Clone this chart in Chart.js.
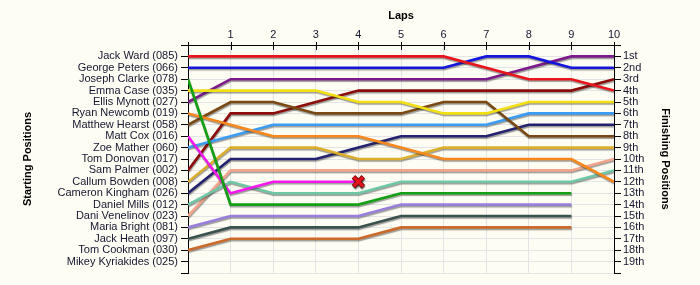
<!DOCTYPE html>
<html>
<head>
<meta charset="utf-8">
<script src="https://cdn.jsdelivr.net/npm/chart.js@4.4.1/dist/chart.umd.min.js"></script>
<style>
  html, body { margin: 0; padding: 0; background: #fdfdf3; }
  #wrap { width: 700px; height: 285px; }
</style>
</head>
<body>
<div id="wrap"><canvas id="race" width="700" height="285"></canvas></div>
<script>
// Laps of the race (0 = grid position)
const laps = [0, 1, 2, 3, 4, 5, 6, 7, 8, 9, 10];

// Grid order, top to bottom
const startNames = [
  'Jack Ward (085)', 'George Peters (066)', 'Joseph Clarke (078)', 'Emma Case (035)',
  'Ellis Mynott (027)', 'Ryan Newcomb (019)', 'Matthew Hearst (058)', 'Matt Cox (016)',
  'Zoe Mather (060)', 'Tom Donovan (017)', 'Sam Palmer (002)', 'Callum Bowden (008)',
  'Cameron Kingham (026)', 'Daniel Mills (012)', 'Dani Venelinov (023)', 'Maria Bright (081)',
  'Jack Heath (097)', 'Tom Cookman (030)', 'Mikey Kyriakides (025)'
];

// Finishing position labels
const finishLabels = [
  '1st', '2nd', '3rd', '4th', '5th', '6th', '7th', '8th', '9th', '10th',
  '11th', '12th', '13th', '14th', '15th', '16th', '17th', '18th', '19th'
];

// Running position of each driver at the end of every lap (null = not running)
const jackWard       = [1, 1, 1, 1, 1, 1, 1, 2, 3, 3, 4];
const georgePeters   = [2, 2, 2, 2, 2, 2, 2, 1, 1, 2, 2];
const josephClarke   = [3, 14, 14, 14, 14, 13, 13, 13, 13, 13, null];
const emmaCase       = [4, 4, 4, 4, 5, 5, 6, 6, 5, 5, 5];
const ellisMynott    = [5, 3, 3, 3, 3, 3, 3, 3, 2, 1, 1];
const ryanNewcomb    = [6, 7, 8, 8, 8, 9, 10, 10, 10, 10, 12];
const matthewHearst  = [7, 5, 5, 6, 6, 6, 5, 5, 8, 8, 8];
const mattCox        = [8, 13, 12, 12, 12, null, null, null, null, null, null];
const zoeMather      = [9, 8, 7, 7, 7, 7, 7, 7, 6, 6, 6];
const samPalmer      = [11, 6, 6, 5, 4, 4, 4, 4, 4, 4, 3];
const callumBowden   = [12, 9, 9, 9, 10, 10, 9, 9, 9, 9, 9];
const cameronKingham = [13, 10, 10, 10, 9, 8, 8, 8, 7, 7, 7];
const danielMills    = [14, 12, 13, 13, 13, 12, 12, 12, 12, 12, 11];
const daniVenelinov  = [15, 11, 11, 11, 11, 11, 11, 11, 11, 11, 10];
const mariaBright    = [16, 15, 15, 15, 15, 14, 14, 14, 14, 14, null];
const jackHeath      = [17, 16, 16, 16, 16, 15, 15, 15, 15, 15, null];
const tomCookman     = [18, 17, 17, 17, 17, 16, 16, 16, 16, 16, null];

const drivers = [
  { name: 'Jack Ward',       pos: jackWard,       color: '#e8161c' },
  { name: 'George Peters',   pos: georgePeters,   color: '#1414dc' },
  { name: 'Joseph Clarke',   pos: josephClarke,   color: '#14a014' },
  { name: 'Emma Case',       pos: emmaCase,       color: '#f2e012' },
  { name: 'Ellis Mynott',    pos: ellisMynott,    color: '#7c1a8c' },
  { name: 'Ryan Newcomb',    pos: ryanNewcomb,    color: '#f8871c' },
  { name: 'Matthew Hearst',  pos: matthewHearst,  color: '#7a4812' },
  { name: 'Matt Cox',        pos: mattCox,        color: '#f418ee' },
  { name: 'Zoe Mather',      pos: zoeMather,      color: '#3a9cf2' },
  { name: 'Sam Palmer',      pos: samPalmer,      color: '#8c0c0c' },
  { name: 'Callum Bowden',   pos: callumBowden,   color: '#dcae2c' },
  { name: 'Cameron Kingham', pos: cameronKingham, color: '#222270' },
  { name: 'Daniel Mills',    pos: danielMills,    color: '#6ec8a8' },
  { name: 'Dani Venelinov',  pos: daniVenelinov,  color: '#f4a48c' },
  { name: 'Maria Bright',    pos: mariaBright,    color: '#9a7edc' },
  { name: 'Jack Heath',      pos: jackHeath,      color: '#38524e' },
  { name: 'Tom Cookman',     pos: tomCookman,     color: '#cc6a2a' }
];

const toPoints = arr => laps.map((lap, i) => ({ x: lap, y: arr[i] }));

const lineSets = drivers.map(d => ({
  label: d.name,
  data: toPoints(d.pos),
  borderColor: d.color,
  backgroundColor: d.color,
  borderWidth: 2.6,
  tension: 0,
  pointRadius: 0,
  pointHoverRadius: 0,
  spanGaps: false,
  fill: false
}));

// Retirement marker placed on the last lap Matt Cox completed
const lastIdx = mattCox.reduce((acc, v, i) => (v !== null ? i : acc), 0);
const retiredPoint = [{ x: laps[lastIdx], y: mattCox[lastIdx] }];
const markerSets = [
  { label: 'retired', data: retiredPoint, showLine: false, pointStyle: 'crossRot',
    pointRadius: 6.5, pointBorderWidth: 3.2, pointBorderColor: '#e0121a', pointBackgroundColor: '#e0121a' },
  { label: 'retired-edge', data: retiredPoint, showLine: false, pointStyle: 'crossRot',
    pointRadius: 7, pointBorderWidth: 5, pointBorderColor: '#7a0a0a', pointBackgroundColor: '#7a0a0a' }
];

const textColor = '#161630';
const gridColor = '#e4e4e4';
const baseFont = { family: "'Liberation Sans', Arial, sans-serif", size: 11, lineHeight: 1.2 };
const titleFont = { family: "'Liberation Sans', Arial, sans-serif", size: 11, weight: 'bold', lineHeight: 1.2 };

const framePlugin = {
  id: 'framePlugin',
  beforeDraw(chart) {
    const ctx = chart.ctx;
    ctx.save();
    ctx.fillStyle = '#fdfdf3';
    ctx.fillRect(0, 0, chart.width, chart.height);
    ctx.restore();
  },
  beforeDatasetDraw(chart) {
    const ctx = chart.ctx;
    ctx.save();
    ctx.shadowColor = 'rgba(40,40,40,0.45)';
    ctx.shadowOffsetX = 0.5;
    ctx.shadowOffsetY = 1.5;
    ctx.shadowBlur = 1;
  },
  afterDatasetDraw(chart) {
    chart.ctx.restore();
  },
  afterDraw(chart) {
    // lap tick marks crossing the top axis line
    const ctx = chart.ctx;
    const xs = chart.scales.x;
    const top = chart.chartArea.top;
    ctx.save();
    ctx.strokeStyle = '#000';
    ctx.lineWidth = 1;
    laps.forEach(lap => {
      const px = Math.round(xs.getPixelForValue(lap)) + 0.5;
      ctx.beginPath();
      ctx.moveTo(px, top - 3);
      ctx.lineTo(px, top + 5);
      ctx.stroke();
    });
    ctx.restore();
  }
};

new Chart(document.getElementById('race'), {
  type: 'line',
  data: { datasets: [...markerSets, ...lineSets] },
  plugins: [framePlugin],
  options: {
    responsive: false,
    animation: false,
    events: [],
    layout: { padding: { left: 0, right: 0, top: 0, bottom: 10 } },
    plugins: { legend: { display: false }, tooltip: { enabled: false } },
    scales: {
      x: {
        type: 'linear',
        position: 'top',
        min: 0,
        max: 10,
        afterFit(s) { s.height = 45; },
        ticks: {
          stepSize: 1,
          autoSkip: false,
          maxRotation: 0,
          padding: 3,
          color: textColor,
          font: baseFont,
          callback: v => (v === 0 ? '' : String(v))
        },
        grid: { color: gridColor, drawTicks: false, lineWidth: 1 },
        border: { display: true, color: '#000', width: 1 },
        title: { display: true, text: 'Laps', color: '#000', font: titleFont, padding: { top: 9.4, bottom: 0 } }
      },
      y: {
        type: 'linear',
        position: 'left',
        reverse: true,
        min: 0,
        max: 20,
        afterFit(s) { s.width = 188; },
        ticks: {
          stepSize: 1,
          autoSkip: false,
          padding: 3,
          color: textColor,
          font: baseFont,
          callback: v => startNames[v - 1] || ''
        },
        grid: { color: gridColor, tickColor: '#000', tickLength: 7, lineWidth: 1 },
        border: { display: true, color: '#000', width: 1 },
        title: { display: true, text: 'Starting Positions', color: '#000', font: titleFont, padding: { top: 21.4, bottom: 0 } }
      },
      y2: {
        type: 'linear',
        position: 'right',
        reverse: true,
        min: 0,
        max: 20,
        afterFit(s) { s.width = 86; },
        ticks: {
          stepSize: 1,
          autoSkip: false,
          padding: 2,
          color: textColor,
          font: baseFont,
          callback: v => finishLabels[v - 1] || ''
        },
        grid: { drawOnChartArea: false, tickColor: '#000', tickLength: 7, lineWidth: 1 },
        border: { display: true, color: '#000', width: 1 },
        title: { display: true, text: 'Finishing Positions', color: '#000', font: titleFont, padding: { top: 27.9, bottom: 0 } }
      }
    }
  }
});
</script>
</body>
</html>
